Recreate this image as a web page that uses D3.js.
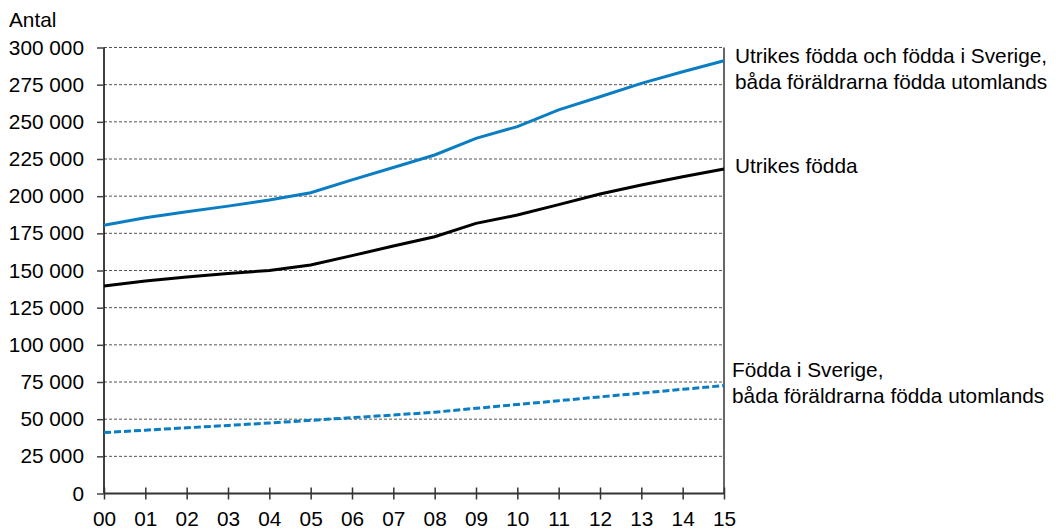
<!DOCTYPE html>
<html lang="sv">
<head>
  <meta charset="UTF-8" />
  <title>Antal</title>
  <script src="https://d3js.org/d3.v7.min.js"></script>
  <style>
    body {
      margin: 0;
      background: #ffffff;
      font-family: 'Liberation Sans', Arial, sans-serif;
    }
    svg text {
      font-size: 20.8px;
      fill: #000;
    }
    .grid line {
      stroke: #555;
      stroke-width: 1;
      stroke-dasharray: 3, 2;
    }
  </style>
</head>
<body>
  <div id="chart"></div>

  <script>
    // years 2000-2015
    const years = ["00", "01", "02", "03", "04", "05", "06", "07", "08", "09", "10", "11", "12", "13", "14", "15"];

    const utrikesOchSverige = [180500, 185500, 189500, 193300, 197400, 202300, 211000, 219300, 227700, 238900, 246800, 258000, 266900, 275900, 283700, 291100];
    const utrikesFodda = [139600, 143000, 145700, 148000, 150000, 153700, 160000, 166500, 172700, 181700, 187300, 194300, 201500, 207500, 213000, 218300];
    const foddaSverige = [41000, 42600, 44200, 45800, 47400, 49200, 51000, 52800, 54700, 57300, 59900, 62400, 65000, 67500, 70100, 72600];

    const yTicks = [0, 25000, 50000, 75000, 100000, 125000, 150000, 175000, 200000, 225000, 250000, 275000, 300000];

    const labelUtrikesOchSverige = ["Utrikes födda och födda i Sverige,", "båda föräldrarna födda utomlands"];
    const labelUtrikes = ["Utrikes födda"];
    const labelSverige = ["Födda i Sverige,", "båda föräldrarna födda utomlands"];

    const blue = "#0b7dc3";

    const W = 1057, H = 530;
    const plot = { left: 104, right: 724, top: 47.5, bottom: 493.5 };

    const svg = d3.select("#chart").append("svg")
      .attr("width", W)
      .attr("height", H);

    const x = d3.scaleLinear().domain([0, years.length - 1]).range([plot.left, plot.right]);
    const y = d3.scaleLinear().domain([0, 300000]).range([plot.bottom, plot.top]);

    const sv = d3.formatLocale({ decimal: ",", thousands: " ", grouping: [3], currency: ["", " kr"] });
    const fmt = sv.format(",");

    // gridlines
    svg.append("g").attr("class", "grid")
      .selectAll("line")
      .data(yTicks.filter(d => d > 0))
      .join("line")
      .attr("x1", plot.left).attr("x2", plot.right)
      .attr("y1", d => y(d)).attr("y2", d => y(d));

    // y axis
    const yAxis = svg.append("g")
      .attr("transform", `translate(${plot.left},0)`)
      .call(d3.axisLeft(y).tickValues(yTicks).tickFormat(fmt).tickSize(7).tickPadding(13));
    yAxis.select(".domain").attr("stroke", "#000").attr("stroke-width", 1.5).attr("d", `M0,${plot.bottom}V${plot.top}`);
    yAxis.selectAll(".tick line").attr("stroke", "#444").attr("stroke-width", 1.5);
    yAxis.selectAll("text").attr("font-size", 20.8).attr("fill", "#000");

    // right border
    svg.append("line")
      .attr("x1", plot.right).attr("x2", plot.right)
      .attr("y1", plot.top).attr("y2", plot.bottom)
      .attr("stroke", "#000").attr("stroke-width", 1.2);

    // x axis
    const xAxis = svg.append("g")
      .attr("transform", `translate(0,${plot.bottom})`)
      .call(d3.axisBottom(x).tickValues(d3.range(years.length)).tickFormat(i => years[i]).tickSize(6).tickPadding(11.5));
    xAxis.select(".domain").attr("stroke", "#333").attr("stroke-width", 2).attr("d", `M${plot.left},0H${plot.right}`);
    xAxis.selectAll(".tick line").attr("stroke", "#333").attr("stroke-width", 1.5).attr("y1", -6);
    xAxis.selectAll("text").attr("font-size", 20.8).attr("fill", "#000");

    // lines
    const line = d3.line().x((d, i) => x(i)).y(d => y(d));

    svg.append("path").datum(foddaSverige)
      .attr("fill", "none").attr("stroke", blue).attr("stroke-width", 3)
      .attr("stroke-dasharray", "7,3")
      .attr("d", line);

    svg.append("path").datum(utrikesFodda)
      .attr("fill", "none").attr("stroke", "#000").attr("stroke-width", 3)
      .attr("d", line);

    svg.append("path").datum(utrikesOchSverige)
      .attr("fill", "none").attr("stroke", blue).attr("stroke-width", 3)
      .attr("d", line);

    // y title
    svg.append("text").attr("x", 9).attr("y", 27).text("Antal");

    // series labels
    function addLabel(lines, lx, ly) {
      const t = svg.append("text").attr("x", lx).attr("y", ly);
      lines.forEach((s, i) => {
        t.append("tspan").attr("x", lx).attr("dy", i === 0 ? 0 : 25.5).text(s);
      });
    }
    addLabel(labelUtrikesOchSverige, 735, 63);
    addLabel(labelUtrikes, 735, 173);
    addLabel(labelSverige, 732, 377);
  </script>
</body>
</html>
